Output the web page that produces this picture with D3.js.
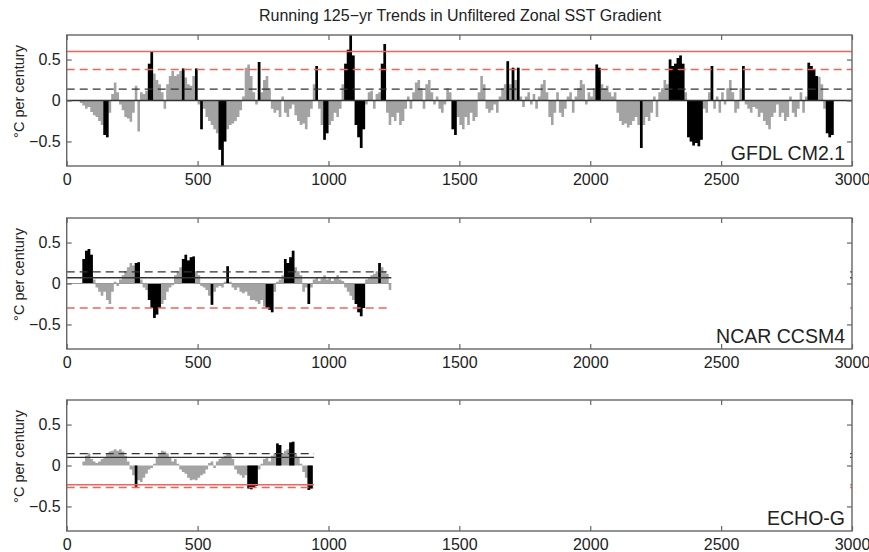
<!DOCTYPE html>
<html>
<head>
<meta charset="utf-8">
<script src="https://cdn.jsdelivr.net/npm/d3@7"></script>
<style>
  body { margin: 0; background: #fff; }
  text { font-family: "Liberation Sans", Arial, Helvetica, sans-serif; }
</style>
</head>
<body>
<svg id="chart"></svg>
<script>
// running 125-yr trends, one value per decade (degC per century)
const gfdlStart = 50
const gfdlTrend = [
  -0.03, -0.06, -0.1, -0.08, -0.14, -0.18, -0.2, -0.25, -0.3, -0.42,
  -0.45, -0.15, 0.08, 0.22, 0.1, -0.05, -0.12, -0.2, -0.22, -0.26,
  -0.15, 0.18, -0.38, 0.1, 0.08, 0.12, 0.45, 0.6, 0.33, 0.25,
  0.2, 0.1, -0.1, 0.2, 0.3, 0.36, 0.3, 0.32, 0.36, 0.39,
  0.28, 0.2, 0.18, 0.3, 0.39, -0.05, -0.35, -0.1, -0.2, -0.25,
  -0.3, -0.35, -0.4, -0.6, -0.8, -0.5, -0.35, -0.3, -0.28, -0.25,
  -0.2, -0.12, 0.05, 0.4, 0.44, 0.3, 0.1, -0.05, 0.47, 0.1,
  0.25, 0.3, 0.15, -0.1, -0.15, -0.12, -0.2, 0.05, -0.15, -0.2,
  -0.1, -0.05, -0.18, -0.25, -0.3, -0.28, -0.35, -0.2, -0.1, 0.2,
  0.42, -0.1, -0.3, -0.48, -0.4, -0.3, -0.25, -0.15, -0.2, -0.1,
  0.2, 0.45, 0.62, 0.8, 0.55, -0.3, -0.45, -0.58, -0.35, -0.05,
  0.1, 0.12, -0.1, 0.08, 0.1, 0.45, 0.69, -0.15, -0.3, -0.2,
  -0.25, -0.15, -0.3, -0.25, -0.1, 0.05, -0.1, 0.1, 0.22, 0.25,
  0.15, -0.1, 0.2, 0.25, 0.1, -0.05, 0.05, -0.1, -0.15, -0.05,
  0.15, 0.1, -0.35, -0.42, -0.2, -0.3, -0.35, -0.2, -0.3, -0.15,
  -0.25, -0.2, 0.1, 0.3, 0.2, -0.1, -0.15, -0.12, -0.05, -0.15,
  0.05, 0.15, 0.2, 0.48, 0.2, 0.4, 0.25, 0.4, 0.05, -0.08,
  0.05, 0.1, -0.05, 0.08, -0.1, 0.05, 0.2, 0.25, 0.1, -0.2,
  -0.3, -0.15, 0.1, -0.15, -0.2, -0.1, 0.05, 0.1, -0.15, 0.05,
  0.15, 0.25, 0.2, -0.05, 0.1, 0.05, 0.15, 0.44, 0.4, 0.2,
  0.15, 0.18, 0.1, 0.05, 0.1, -0.15, -0.25, -0.3, -0.28, -0.33,
  -0.3, -0.25, -0.2, -0.3, -0.58, -0.3, -0.2, -0.25, -0.15, 0.05,
  -0.2, 0.1, 0.15, 0.25, 0.2, 0.5, 0.42, 0.45, 0.52, 0.55,
  0.45, 0.1, -0.45, -0.5, -0.55, -0.52, -0.56, -0.48, -0.1, -0.15,
  0.1, 0.42, -0.1, 0.05, -0.15, 0.1, -0.05, 0.15, 0.25, 0.1,
  -0.15, -0.1, 0.15, 0.42, -0.05, -0.1, -0.15, -0.08, -0.1, -0.2,
  -0.15, -0.25, -0.3, -0.35, -0.2, -0.15, -0.05, -0.2, -0.15, -0.25,
  -0.2, 0.05, -0.15, -0.2, -0.1, 0.1, -0.15, 0.05, 0.46, 0.42,
  0.38, 0.3, 0.29, 0.2, -0.1, -0.4, -0.45, -0.42
]
const gfdlSig = [
  [140, 160], [310, 330], [440, 450], [490, 500], [510, 520], [580, 610],
  [730, 740], [950, 960], [980, 1000], [1060, 1140], [1200, 1220],
  [1470, 1490], [1680, 1690], [1700, 1710], [1720, 1730], [2020, 2040],
  [2190, 2200], [2300, 2360], [2370, 2430], [2460, 2470], [2580, 2590],
  [2830, 2870], [2900, 2930]
]
// [mean, black dashed, red solid, red dashed], end year of the lines
const gfdlLevels = [0, 0.14, 0.6, 0.38]
const gfdlEnd = 3000

const ncarStart = 60
const ncarTrend = [
  0.3, 0.4, 0.42, 0.35, 0.05, -0.05, -0.1, -0.15, -0.1, -0.2,
  -0.25, -0.1, 0.02, -0.03, 0.05, 0.1, 0.15, 0.2, 0.25, 0.22,
  0.25, 0.26, 0.05, -0.05, -0.08, -0.2, -0.3, -0.42, -0.38, -0.3,
  -0.25, -0.2, -0.1, -0.05, -0.02, 0.1, 0.15, 0.2, 0.3, 0.35,
  0.28, 0.32, 0.33, 0.15, 0.1, -0.03, -0.05, -0.08, -0.15, -0.26,
  -0.1, -0.05, -0.03, -0.05, 0.02, 0.21, 0.02, -0.05, -0.08, -0.05,
  -0.1, -0.12, -0.1, -0.15, -0.2, -0.2, -0.22, -0.25, -0.2, -0.28,
  -0.3, -0.32, -0.35, -0.1, 0.02, 0.05, 0.1, 0.3, 0.25, 0.32,
  0.4, 0.2, 0.15, 0.1, -0.1, -0.05, -0.25, -0.05, 0.05, 0.08,
  0.03, 0.06, 0.1, 0.05, 0.08, 0.03, 0.07, 0.1, 0.05, 0.03,
  -0.05, -0.1, -0.15, -0.2, -0.25, -0.35, -0.4, -0.3, 0.05, 0.08,
  0.1, 0.12, 0.15, 0.25, 0.2, 0.15, 0.12, -0.08
]
const ncarSig = [
  [60, 100], [260, 280], [310, 360], [440, 490], [550, 560], [610, 620],
  [760, 790], [830, 870], [920, 930], [1100, 1140], [1190, 1200]
]
const ncarLevels = [0.07, 0.143, null, -0.3]
const ncarEnd = 1240

const echoStart = 60
const echoTrend = [
  0.05, 0.12, 0.15, 0.08, 0.05, 0.03, 0.05, 0.08, 0.1, 0.15,
  0.17, 0.18, 0.2, 0.18, 0.2, 0.17, 0.12, 0.05, -0.05, -0.12,
  -0.26, -0.18, -0.2, -0.15, -0.1, -0.05, -0.03, 0.02, 0.1, 0.15,
  0.18, 0.17, 0.15, 0.1, 0.05, 0.08, 0.02, -0.05, -0.08, -0.1,
  -0.15, -0.18, -0.17, -0.18, -0.15, -0.12, -0.1, -0.05, 0.03, 0.05,
  -0.03, 0.05, 0.08, 0.1, 0.12, 0.15, 0.14, 0.08, -0.05, -0.1,
  -0.12, -0.15, -0.12, -0.28, -0.29, -0.27, -0.25, -0.05, 0.02, 0.08,
  0.1, 0.05, 0.12, 0.15, 0.27, 0.25, 0.15, 0.18, 0.2, 0.28,
  0.29, 0.15, 0.1, 0.02, -0.08, -0.15, -0.3, -0.28
]
const echoSig = [[260, 270], [690, 730], [800, 820], [850, 870], [920, 940]]
const echoLevels = [0.1, 0.145, -0.236, -0.27]
const echoEnd = 945

const modelNames = ['GFDL CM2.1', 'NCAR CCSM4', 'ECHO-G']
const xTicks = [0, 500, 1000, 1500, 2000, 2500, 3000]
const yTicks = [-0.5, 0, 0.5]
const title = 'Running 125\u2212yr Trends in Unfiltered Zonal SST Gradient'
const yLabel = '\u00b0C per century'

const panels = [
  { name: modelNames[0], start: gfdlStart, trend: gfdlTrend, sig: gfdlSig, levels: gfdlLevels, end: gfdlEnd, zero: false },
  { name: modelNames[1], start: ncarStart, trend: ncarTrend, sig: ncarSig, levels: ncarLevels, end: ncarEnd, zero: true },
  { name: modelNames[2], start: echoStart, trend: echoTrend, sig: echoSig, levels: echoLevels, end: echoEnd, zero: false }
]

const width = 869
const height = 552
const panelTops = [35, 218, 400]
const panelH = 131
const frameColor = '#666'
const red = '#f2625c'

const svg = d3.select('#chart')
  .attr('width', width)
  .attr('height', height)
  .attr('viewBox', `0,0,${width},${height}`)

svg.append('rect').attr('width', width).attr('height', height).attr('fill', '#fff')

const x = d3.scaleLinear().domain([0, 3000]).range([66.7, 852])

svg.append('text')
  .attr('x', 460)
  .attr('y', 21)
  .attr('text-anchor', 'middle')
  .attr('font-size', 16)
  .attr('fill', '#222')
  .text(title)

const fmt = (d) => (d === 0 ? '0' : d3.format('.1f')(d))

panels.forEach((p, k) => {
  const top = panelTops[k]
  const bottom = top + panelH
  const y = d3.scaleLinear().domain([-0.8, 0.8]).range([bottom, top])
  const g = svg.append('g')

  const isSig = (yr) => p.sig.some(([a, b]) => yr >= a && yr < b)
  // each decade becomes a flat step from yr to yr+10
  const steps = p.trend.flatMap((v, i) => {
    const yr = p.start + i * 10
    const s = isSig(yr)
    return [{ t: yr, v, s }, { t: yr + 10, v, s }]
  })

  const area = d3.area()
    .x((d) => x(d.t))
    .y0(y(0))
    .y1((d) => y(d.v))

  g.append('path')
    .datum(steps)
    .attr('d', area)
    .attr('fill', '#a3a3a3')

  g.append('path')
    .datum(steps)
    .attr('d', area.defined((d) => d.s))
    .attr('fill', '#000')

  if (p.zero) {
    g.append('line')
      .attr('x1', x(0)).attr('x2', x(p.end))
      .attr('y1', y(0)).attr('y2', y(0))
      .attr('stroke', '#999').attr('stroke-width', 1.2)
  }

  const [mean, blackDash, redSolid, redDash] = p.levels
  const hline = (v, color, dash, w) => {
    if (v === null) return
    g.append('line')
      .attr('x1', x(0)).attr('x2', x(p.end))
      .attr('y1', y(v)).attr('y2', y(v))
      .attr('stroke', color)
      .attr('stroke-width', w)
      .attr('stroke-dasharray', dash)
    if (p.end < 3000) {
      // stray end marks at the right edge
      g.append('line')
        .attr('x1', x(2993)).attr('x2', x(3000))
        .attr('y1', y(v)).attr('y2', y(v))
        .attr('stroke', color).attr('stroke-width', w)
    }
  }
  hline(redSolid, red, null, 1.5)
  hline(redDash, red, '8,5', 1.5)
  hline(blackDash, '#333', '8,5', 1.3)
  hline(mean, '#333', null, 1.3)

  // frame and inward ticks
  const axB = g.append('g')
    .attr('transform', `translate(0,${bottom})`)
    .call(d3.axisBottom(x).tickValues(xTicks).tickSize(-5).tickPadding(8).tickFormat(d3.format('d')))
  const axT = g.append('g')
    .attr('transform', `translate(0,${top})`)
    .call(d3.axisTop(x).tickValues(xTicks).tickSize(-5).tickFormat(''))
  const axL = g.append('g')
    .attr('transform', `translate(${x(0)},0)`)
    .call(d3.axisLeft(y).tickValues(yTicks).tickSize(-5).tickPadding(6).tickFormat(fmt))
  const axR = g.append('g')
    .attr('transform', `translate(${x(3000)},0)`)
    .call(d3.axisRight(y).tickValues(yTicks).tickSize(-5).tickFormat(''))

  ;[axB, axT, axL, axR].forEach((a) => {
    a.select('.domain').remove()
    a.selectAll('line').attr('stroke', frameColor).attr('stroke-width', 1.2)
    a.selectAll('text')
      .attr('font-size', 16)
      .attr('fill', '#222')
      .style('font-family', '"Liberation Sans", Arial, sans-serif')
  })

  g.append('rect')
    .attr('x', x(0)).attr('y', top)
    .attr('width', x(3000) - x(0)).attr('height', panelH)
    .attr('fill', 'none')
    .attr('stroke', frameColor)
    .attr('stroke-width', 1.4)

  g.append('text')
    .attr('transform', `translate(19,${top + panelH / 2 - 9}) rotate(-90)`)
    .attr('text-anchor', 'middle')
    .attr('dy', '0.35em')
    .attr('font-size', 14.5)
    .attr('fill', '#222')
    .text(yLabel)

  g.append('text')
    .attr('x', 845)
    .attr('y', bottom - 6)
    .attr('text-anchor', 'end')
    .attr('font-size', 19.5)
    .attr('fill', '#222')
    .text(p.name)
})
</script>
</body>
</html>
